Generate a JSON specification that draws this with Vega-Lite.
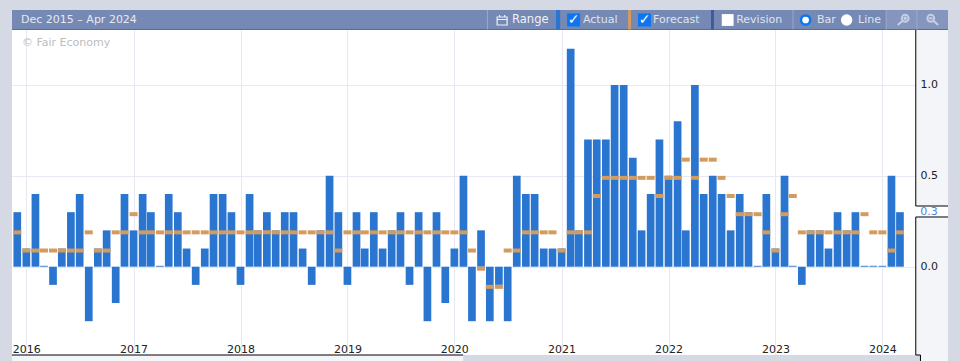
{"$schema":"https://vega.github.io/schema/vega-lite/v6.json","width":936,"height":351,"autosize":{"type":"none"},"padding":{"left":12,"top":10,"right":12,"bottom":0},"background":"#d5d9e3","view":{"fill":"#ffffff","stroke":null},"config":{"text":{"font":"DejaVu Sans"},"axis":{"labelFont":"DejaVu Sans"}},
"data":{"values":[{}]},
"resolve":{"axis":{"x":"independent","y":"independent"}},
"datasets":{"rates":[
{"month":"2015-12-01","actual":0.3,"forecast":0.2},{"month":"2016-01-01","actual":0.1,"forecast":0.1},{"month":"2016-02-01","actual":0.4,"forecast":0.1},{"month":"2016-03-01","actual":0.005,"forecast":0.1},{"month":"2016-04-01","actual":-0.1,"forecast":0.1},{"month":"2016-05-01","actual":0.1,"forecast":0.1},{"month":"2016-06-01","actual":0.3,"forecast":0.1},{"month":"2016-07-01","actual":0.4,"forecast":0.1},{"month":"2016-08-01","actual":-0.3,"forecast":0.2},{"month":"2016-09-01","actual":0.1,"forecast":0.1},{"month":"2016-10-01","actual":0.2,"forecast":0.1},{"month":"2016-11-01","actual":-0.2,"forecast":0.2},{"month":"2016-12-01","actual":0.4,"forecast":0.2},
{"month":"2017-01-01","actual":0.2,"forecast":0.3},{"month":"2017-02-01","actual":0.4,"forecast":0.2},{"month":"2017-03-01","actual":0.3,"forecast":0.2},{"month":"2017-04-01","actual":0.005,"forecast":0.2},{"month":"2017-05-01","actual":0.4,"forecast":0.2},{"month":"2017-06-01","actual":0.3,"forecast":0.2},{"month":"2017-07-01","actual":0.1,"forecast":0.2},{"month":"2017-08-01","actual":-0.1,"forecast":0.2},{"month":"2017-09-01","actual":0.1,"forecast":0.2},{"month":"2017-10-01","actual":0.4,"forecast":0.2},{"month":"2017-11-01","actual":0.4,"forecast":0.2},{"month":"2017-12-01","actual":0.3,"forecast":0.2},
{"month":"2018-01-01","actual":-0.1,"forecast":0.2},{"month":"2018-02-01","actual":0.4,"forecast":0.2},{"month":"2018-03-01","actual":0.2,"forecast":0.2},{"month":"2018-04-01","actual":0.3,"forecast":0.2},{"month":"2018-05-01","actual":0.2,"forecast":0.2},{"month":"2018-06-01","actual":0.3,"forecast":0.2},{"month":"2018-07-01","actual":0.3,"forecast":0.2},{"month":"2018-08-01","actual":0.1,"forecast":0.2},{"month":"2018-09-01","actual":-0.1,"forecast":0.2},{"month":"2018-10-01","actual":0.2,"forecast":0.2},{"month":"2018-11-01","actual":0.5,"forecast":0.2},{"month":"2018-12-01","actual":0.3,"forecast":0.1},
{"month":"2019-01-01","actual":-0.1,"forecast":0.2},{"month":"2019-02-01","actual":0.3,"forecast":0.2},{"month":"2019-03-01","actual":0.1,"forecast":0.2},{"month":"2019-04-01","actual":0.3,"forecast":0.2},{"month":"2019-05-01","actual":0.1,"forecast":0.2},{"month":"2019-06-01","actual":0.2,"forecast":0.2},{"month":"2019-07-01","actual":0.3,"forecast":0.2},{"month":"2019-08-01","actual":-0.1,"forecast":0.2},{"month":"2019-09-01","actual":0.3,"forecast":0.2},{"month":"2019-10-01","actual":-0.3,"forecast":0.2},{"month":"2019-11-01","actual":0.3,"forecast":0.2},{"month":"2019-12-01","actual":-0.2,"forecast":0.2},
{"month":"2020-01-01","actual":0.1,"forecast":0.2},{"month":"2020-02-01","actual":0.5,"forecast":0.2},{"month":"2020-03-01","actual":-0.3,"forecast":0.1},{"month":"2020-04-01","actual":0.2,"forecast":0},{"month":"2020-05-01","actual":-0.3,"forecast":-0.1},{"month":"2020-06-01","actual":-0.1,"forecast":-0.1},{"month":"2020-07-01","actual":-0.3,"forecast":0.1},{"month":"2020-08-01","actual":0.5,"forecast":0.1},{"month":"2020-09-01","actual":0.4,"forecast":0.2},{"month":"2020-10-01","actual":0.4,"forecast":0.2},{"month":"2020-11-01","actual":0.1,"forecast":0.2},{"month":"2020-12-01","actual":0.1,"forecast":0.2},
{"month":"2021-01-01","actual":0.1,"forecast":0.1},{"month":"2021-02-01","actual":1.2,"forecast":0.2},{"month":"2021-03-01","actual":0.2,"forecast":0.2},{"month":"2021-04-01","actual":0.7,"forecast":0.2},{"month":"2021-05-01","actual":0.7,"forecast":0.4},{"month":"2021-06-01","actual":0.7,"forecast":0.5},{"month":"2021-07-01","actual":1.0,"forecast":0.5},{"month":"2021-08-01","actual":1.0,"forecast":0.5},{"month":"2021-09-01","actual":0.6,"forecast":0.5},{"month":"2021-10-01","actual":0.2,"forecast":0.5},{"month":"2021-11-01","actual":0.4,"forecast":0.5},{"month":"2021-12-01","actual":0.7,"forecast":0.4},
{"month":"2022-01-01","actual":0.5,"forecast":0.5},{"month":"2022-02-01","actual":0.8,"forecast":0.5},{"month":"2022-03-01","actual":0.2,"forecast":0.6},{"month":"2022-04-01","actual":1.0,"forecast":0.5},{"month":"2022-05-01","actual":0.4,"forecast":0.6},{"month":"2022-06-01","actual":0.5,"forecast":0.6},{"month":"2022-07-01","actual":0.4,"forecast":0.5},{"month":"2022-08-01","actual":0.2,"forecast":0.4},{"month":"2022-09-01","actual":0.4,"forecast":0.3},{"month":"2022-10-01","actual":0.3,"forecast":0.3},{"month":"2022-11-01","actual":0.005,"forecast":0.3},{"month":"2022-12-01","actual":0.4,"forecast":0.2},
{"month":"2023-01-01","actual":0.1,"forecast":0.1},{"month":"2023-02-01","actual":0.5,"forecast":0.3},{"month":"2023-03-01","actual":0.005,"forecast":0.4},{"month":"2023-04-01","actual":-0.1,"forecast":0.2},{"month":"2023-05-01","actual":0.2,"forecast":0.2},{"month":"2023-06-01","actual":0.2,"forecast":0.2},{"month":"2023-07-01","actual":0.1,"forecast":0.2},{"month":"2023-08-01","actual":0.3,"forecast":0.2},{"month":"2023-09-01","actual":0.2,"forecast":0.2},{"month":"2023-10-01","actual":0.3,"forecast":0.2},{"month":"2023-11-01","actual":0.005,"forecast":0.3},{"month":"2023-12-01","actual":0.005,"forecast":0.2},
{"month":"2024-01-01","actual":0.005,"forecast":0.2},{"month":"2024-02-01","actual":0.5,"forecast":0.1},{"month":"2024-03-01","actual":0.3,"forecast":0.2}]},
"layer":[
{"data":{"name":"rates"},"mark":{"type":"bar","size":7.7,"color":"#2975cf"},"encoding":{
"x":{"field":"month","type":"temporal","title":null,"scale":{"domain":["2015-11-13","2024-08-12"],"nice":false,"padding":0},"axis":{"orient":"top","tickCount":{"interval":"year","step":1},"grid":true,"gridColor":"#e8e8f2","gridWidth":1,"domain":false,"ticks":false,"labels":false,"zindex":0}},
"y":{"field":"actual","type":"quantitative","title":null,"scale":{"domain":[-0.519,1.4127],"nice":false,"zero":false},"axis":{"orient":"left","values":[0,0.5,1],"grid":true,"gridColor":"#e8e8f2","gridWidth":1,"domain":false,"ticks":false,"labels":false,"zindex":0}}}},
{"data":{"name":"rates"},"mark":{"type":"tick","orient":"horizontal","size":8,"thickness":4,"color":"#d49b5e","opacity":1,"yOffset":2},"encoding":{"x":{"field":"month","type":"temporal","axis":null},"y":{"field":"forecast","type":"quantitative","axis":null}}},
{"mark":{"type":"rect","color":"#f4f5f9"},"encoding":{"x":{"datum":{"year":2015,"month":11,"date":13},"type":"temporal","axis":null},"x2":{"datum":{"year":2020,"month":1,"date":31}},"y":{"datum":-0.486,"type":"quantitative","axis":null},"y2":{"datum":-0.519}}},
{"mark":{"type":"rect","color":"#d5d9e3"},"encoding":{"x":{"datum":{"year":2020,"month":1,"date":31},"type":"temporal","axis":null},"x2":{"datum":{"year":2024,"month":5,"date":10}},"y":{"datum":-0.486,"type":"quantitative","axis":null},"y2":{"datum":-0.519}}},
{"mark":{"type":"rect","color":"#f4f5f9"},"encoding":{"x":{"datum":{"year":2024,"month":4,"date":24},"type":"temporal","axis":null},"x2":{"datum":{"year":2024,"month":8,"date":12}},"y":{"datum":-0.486,"type":"quantitative","axis":null},"y2":{"datum":1.3027}}},
{"mark":{"type":"rect","color":"#f4f5f9"},"encoding":{"x":{"datum":{"year":2024,"month":5,"date":10},"type":"temporal","axis":null},"x2":{"datum":{"year":2024,"month":8,"date":12}},"y":{"datum":-0.486,"type":"quantitative","axis":null},"y2":{"datum":-0.519}}},
{"mark":{"type":"rect","color":"#ffffff"},"encoding":{"x":{"datum":{"year":2024,"month":4,"date":24},"type":"temporal","axis":null},"x2":{"datum":{"year":2024,"month":8,"date":12}},"y":{"datum":0.2735,"type":"quantitative","axis":null},"y2":{"datum":0.334}}},
{"mark":{"type":"rect","color":"#7589b4"},"encoding":{"x":{"datum":{"year":2015,"month":11,"date":13},"type":"temporal","axis":null},"x2":{"datum":{"year":2024,"month":8,"date":12}},"y":{"datum":1.3027,"type":"quantitative","axis":null},"y2":{"datum":1.4127}}},
{"mark":{"type":"rect","color":"#8496be"},"encoding":{"x":{"datum":{"year":2024,"month":1,"date":14},"type":"temporal","axis":null},"x2":{"datum":{"year":2024,"month":8,"date":12}},"y":{"datum":1.3027,"type":"quantitative","axis":null},"y2":{"datum":1.4127}}},
{"mark":{"type":"rule","color":"#566d9f","strokeWidth":1},"encoding":{"x":{"datum":{"year":2015,"month":11,"date":13},"type":"temporal","axis":null},"x2":{"datum":{"year":2024,"month":8,"date":12}},"y":{"datum":1.3055,"type":"quantitative","axis":null}}},
{"mark":{"type":"rule","color":"#000000","strokeWidth":1},"encoding":{"x":{"datum":{"year":2024,"month":4,"date":24},"type":"temporal","axis":null},"y":{"datum":1.3027,"type":"quantitative","axis":null},"y2":{"datum":0.334}}},
{"mark":{"type":"rule","color":"#000000","strokeWidth":1},"encoding":{"x":{"datum":{"year":2024,"month":4,"date":24},"type":"temporal","axis":null},"y":{"datum":0.2735,"type":"quantitative","axis":null},"y2":{"datum":-0.486}}},
{"mark":{"type":"rule","color":"#000000","strokeWidth":1},"encoding":{"x":{"datum":{"year":2024,"month":4,"date":24},"type":"temporal","axis":null},"x2":{"datum":{"year":2024,"month":8,"date":12}},"y":{"datum":0.334,"type":"quantitative","axis":null}}},
{"mark":{"type":"rule","color":"#000000","strokeWidth":1},"encoding":{"x":{"datum":{"year":2024,"month":4,"date":24},"type":"temporal","axis":null},"x2":{"datum":{"year":2024,"month":8,"date":12}},"y":{"datum":0.2735,"type":"quantitative","axis":null}}},
{"mark":{"type":"rule","color":"#000000","strokeWidth":1},"encoding":{"x":{"datum":{"year":2015,"month":11,"date":13},"type":"temporal","axis":null},"x2":{"datum":{"year":2020,"month":1,"date":31}},"y":{"datum":-0.486,"type":"quantitative","axis":null}}},
{"mark":{"type":"rule","color":"#000000","strokeWidth":1},"encoding":{"x":{"datum":{"year":2024,"month":4,"date":24},"type":"temporal","axis":null},"x2":{"datum":{"year":2024,"month":5,"date":10}},"y":{"datum":-0.486,"type":"quantitative","axis":null}}},
{"mark":{"type":"rule","color":"#000000","strokeWidth":1},"encoding":{"x":{"datum":{"year":2024,"month":5,"date":10},"type":"temporal","axis":null},"y":{"datum":-0.486,"type":"quantitative","axis":null},"y2":{"datum":-0.519}}},
{"mark":{"type":"rule","color":"#9aa8c8","strokeWidth":1},"encoding":{"x":{"datum":{"year":2020,"month":4,"date":23},"type":"temporal","axis":null},"y":{"datum":1.3055,"type":"quantitative","axis":null},"y2":{"datum":1.4127}}},
{"mark":{"type":"rule","color":"#9aa8c8","strokeWidth":1},"encoding":{"x":{"datum":{"year":2023,"month":3,"date":2},"type":"temporal","axis":null},"y":{"datum":1.3055,"type":"quantitative","axis":null},"y2":{"datum":1.4127}}},
{"mark":{"type":"rule","color":"#9aa8c8","strokeWidth":1},"encoding":{"x":{"datum":{"year":2024,"month":1,"date":14},"type":"temporal","axis":null},"y":{"datum":1.3055,"type":"quantitative","axis":null},"y2":{"datum":1.4127}}},
{"mark":{"type":"rule","color":"#9aa8c8","strokeWidth":1},"encoding":{"x":{"datum":{"year":2024,"month":4,"date":28},"type":"temporal","axis":null},"y":{"datum":1.3055,"type":"quantitative","axis":null},"y2":{"datum":1.4127}}},
{"mark":{"type":"rect","color":"#2975cf"},"encoding":{"x":{"datum":{"year":2020,"month":12,"date":13},"type":"temporal","axis":null},"x2":{"datum":{"year":2020,"month":12,"date":27}},"y":{"datum":1.3055,"type":"quantitative","axis":null},"y2":{"datum":1.4127}}},
{"mark":{"type":"rect","color":"#d49b5e"},"encoding":{"x":{"datum":{"year":2021,"month":8,"date":16},"type":"temporal","axis":null},"x2":{"datum":{"year":2021,"month":8,"date":26}},"y":{"datum":1.3055,"type":"quantitative","axis":null},"y2":{"datum":1.4127}}},
{"mark":{"type":"rect","color":"#3d5a9c"},"encoding":{"x":{"datum":{"year":2022,"month":5,"date":26},"type":"temporal","axis":null},"x2":{"datum":{"year":2022,"month":6,"date":5}},"y":{"datum":1.3055,"type":"quantitative","axis":null},"y2":{"datum":1.4127}}},
{"mark":{"type":"text","text":"Dec 2015 – Apr 2024","align":"left","baseline":"middle","fontSize":11,"color":"#e6eaf3"},"encoding":{"x":{"datum":{"year":2015,"month":12,"date":14},"type":"temporal","axis":null},"y":{"datum":1.3577,"type":"quantitative","axis":null}}},
{"mark":{"type":"text","text":"© Fair Economy","align":"left","baseline":"middle","fontSize":11,"color":"#bdbdbd"},"encoding":{"x":{"datum":{"year":2015,"month":12,"date":17},"type":"temporal","axis":null},"y":{"datum":1.231,"type":"quantitative","axis":null}}},
{"mark":{"type":"point","shape":"M-1,-0.6H1V1H-1Z M-1,-0.1H1 M-0.5,-1V-0.5 M0.5,-1V-0.5","size":100,"filled":false,"stroke":"#eef1f7","strokeWidth":1.2,"opacity":1},"encoding":{"x":{"datum":{"year":2020,"month":6,"date":12},"type":"temporal","axis":null},"y":{"datum":1.3577,"type":"quantitative","axis":null}}},
{"mark":{"type":"text","text":"Range","align":"left","baseline":"middle","fontSize":11.5,"color":"#eef1f7"},"encoding":{"x":{"datum":{"year":2020,"month":7,"date":16},"type":"temporal","axis":null},"y":{"datum":1.3577,"type":"quantitative","axis":null}}},
{"mark":{"type":"point","shape":"square","size":169,"filled":true,"color":"#0b76f0","opacity":1},"encoding":{"x":{"datum":{"year":2021,"month":2,"date":11},"type":"temporal","axis":null},"y":{"datum":1.3577,"type":"quantitative","axis":null}}},
{"mark":{"type":"text","text":"✓","align":"center","baseline":"middle","fontSize":14,"fontWeight":"bold","color":"#ffffff"},"encoding":{"x":{"datum":{"year":2021,"month":2,"date":11},"type":"temporal","axis":null},"y":{"datum":1.3577,"type":"quantitative","axis":null}}},
{"mark":{"type":"text","text":"Actual","align":"left","baseline":"middle","fontSize":11,"color":"#dfe4ef"},"encoding":{"x":{"datum":{"year":2021,"month":3,"date":15},"type":"temporal","axis":null},"y":{"datum":1.3577,"type":"quantitative","axis":null}}},
{"mark":{"type":"point","shape":"square","size":169,"filled":true,"color":"#0b76f0","opacity":1},"encoding":{"x":{"datum":{"year":2021,"month":10,"date":11},"type":"temporal","axis":null},"y":{"datum":1.3577,"type":"quantitative","axis":null}}},
{"mark":{"type":"text","text":"✓","align":"center","baseline":"middle","fontSize":14,"fontWeight":"bold","color":"#ffffff"},"encoding":{"x":{"datum":{"year":2021,"month":10,"date":11},"type":"temporal","axis":null},"y":{"datum":1.3577,"type":"quantitative","axis":null}}},
{"mark":{"type":"text","text":"Forecast","align":"left","baseline":"middle","fontSize":11,"color":"#dfe4ef"},"encoding":{"x":{"datum":{"year":2021,"month":11,"date":9},"type":"temporal","axis":null},"y":{"datum":1.3577,"type":"quantitative","axis":null}}},
{"mark":{"type":"point","shape":"square","size":140,"filled":true,"color":"#ffffff","opacity":1},"encoding":{"x":{"datum":{"year":2022,"month":7,"date":22},"type":"temporal","axis":null},"y":{"datum":1.3577,"type":"quantitative","axis":null}}},
{"mark":{"type":"text","text":"Revision","align":"left","baseline":"middle","fontSize":11,"color":"#dfe4ef"},"encoding":{"x":{"datum":{"year":2022,"month":8,"date":20},"type":"temporal","axis":null},"y":{"datum":1.3577,"type":"quantitative","axis":null}}},
{"mark":{"type":"point","shape":"circle","size":85,"filled":true,"fill":"#ffffff","stroke":"#0b76f0","strokeWidth":2.5,"opacity":1},"encoding":{"x":{"datum":{"year":2023,"month":4,"date":14},"type":"temporal","axis":null},"y":{"datum":1.3577,"type":"quantitative","axis":null}}},
{"mark":{"type":"text","text":"Bar","align":"left","baseline":"middle","fontSize":11,"color":"#dfe4ef"},"encoding":{"x":{"datum":{"year":2023,"month":5,"date":23},"type":"temporal","axis":null},"y":{"datum":1.3577,"type":"quantitative","axis":null}}},
{"mark":{"type":"point","shape":"circle","size":130,"filled":true,"color":"#ffffff","opacity":1},"encoding":{"x":{"datum":{"year":2023,"month":9,"date":1},"type":"temporal","axis":null},"y":{"datum":1.3577,"type":"quantitative","axis":null}}},
{"mark":{"type":"text","text":"Line","align":"left","baseline":"middle","fontSize":11,"color":"#dfe4ef"},"encoding":{"x":{"datum":{"year":2023,"month":10,"date":10},"type":"temporal","axis":null},"y":{"datum":1.3577,"type":"quantitative","axis":null}}},
{"mark":{"type":"point","shape":"M-0.2,-0.3A0.6,0.6 0 1 1 1,-0.3A0.6,0.6 0 1 1 -0.2,-0.3Z M-0.05,0.15L-0.9,0.9 M0.4,-0.6V0 M0.1,-0.3H0.7","size":130,"filled":false,"stroke":"#c6cfe2","strokeWidth":2,"opacity":1},"encoding":{"x":{"datum":{"year":2024,"month":3,"date":11},"type":"temporal","axis":null},"y":{"datum":1.3577,"type":"quantitative","axis":null}}},
{"mark":{"type":"point","shape":"M-1,-0.3A0.6,0.6 0 1 1 0.2,-0.3A0.6,0.6 0 1 1 -1,-0.3Z M0.05,0.15L0.9,0.9 M-0.7,-0.3H-0.1","size":130,"filled":false,"stroke":"#c6cfe2","strokeWidth":2,"opacity":1},"encoding":{"x":{"datum":{"year":2024,"month":6,"date":22},"type":"temporal","axis":null},"y":{"datum":1.3577,"type":"quantitative","axis":null}}},
{"mark":{"type":"text","text":"0.3","align":"left","baseline":"middle","fontSize":11,"color":"#3f8ae0"},"encoding":{"x":{"datum":{"year":2024,"month":5,"date":9},"type":"temporal","axis":{"orient":"bottom","tickCount":{"interval":"year","step":1},"format":"%Y","title":null,"grid":false,"domain":false,"ticks":false,"labelFontSize":11,"labelColor":"#222222","labelBaseline":"alphabetic","labelPadding":-9,"labelFlush":false,"labelBound":false,"labelOverlap":false,"zindex":1}},"y":{"datum":0.3,"type":"quantitative","axis":{"orient":"right","offset":-32,"values":[0,0.5,1],"format":".1f","title":null,"grid":false,"domain":false,"ticks":false,"labelFontSize":11,"labelColor":"#222222","labelPadding":4,"labelOverlap":false,"labelBound":false,"zindex":1}}}}
]}
